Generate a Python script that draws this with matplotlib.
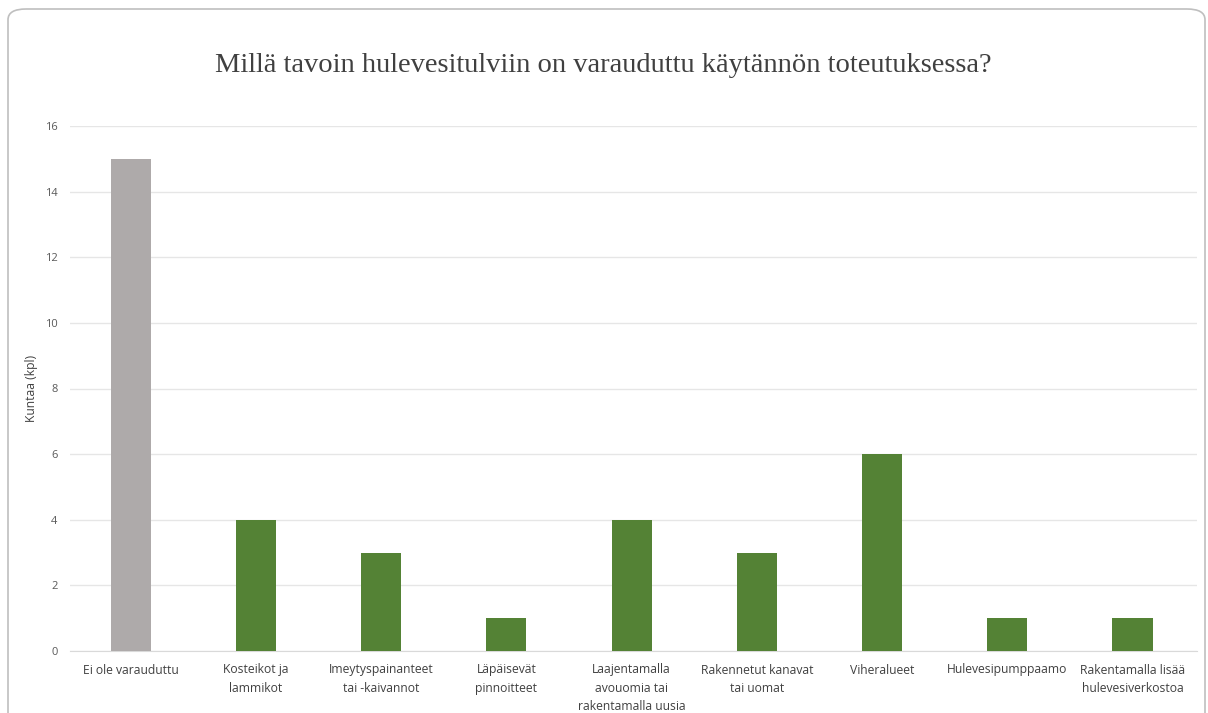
import matplotlib.pyplot as plt
from matplotlib.patches import FancyBboxPatch

categories = ['Ei ole varauduttu', 'Kosteikot ja\nlammikot', 'Imeytyspainanteet\ntai -kaivannot',
              'Läpäisevät\npinnoitteet', 'Laajentamalla\navouomia tai\nrakentamalla uusia',
              'Rakennetut kanavat\ntai uomat', 'Viheralueet', 'Hulevesipumppaamo',
              'Rakentamalla lisää\nhulevesiverkostoa']
values = [15, 4, 3, 1, 4, 3, 6, 1, 1]
colors = ['#aeaaaa'] + ['#548235'] * 8

fig = plt.figure(figsize=(12.08, 7.13), dpi=100)

# rounded chart border (runs off the bottom edge)
W, H = 1208, 713
border = FancyBboxPatch((8 / W, -20 / H), 1197 / W, (713 - 9 + 20) / H,
                        boxstyle='round,pad=0,rounding_size=0.015',
                        transform=fig.transFigure, facecolor='none',
                        edgecolor='#bfbfbf', linewidth=1.2, clip_on=False, zorder=5)
fig.patches.append(border)

ax = fig.add_axes([70 / W, 1 - 651 / H, 1127 / W, (651 - 126) / H])
ax.set_facecolor('none')
x = range(len(categories))
ax.bar([i - 0.015 for i in x], values, width=0.32, color=colors, zorder=3)

ax.set_ylim(0, 16)
ax.set_xlim(-0.5, len(categories) - 0.5)
ax.set_yticks(range(0, 17, 2))
ax.set_xticks([i - 0.015 for i in x])
ax.set_xticklabels(categories, fontsize=8.7, color='#404040', linespacing=1.55,
                   family='Open Sans', va='top')
for lbl in ax.get_yticklabels():
    lbl.set_fontsize(8)
    lbl.set_color('#595959')
    lbl.set_family('Open Sans')
ax.tick_params(axis='both', length=0)
ax.tick_params(axis='y', pad=9)
ax.tick_params(axis='x', pad=9)
ax.grid(axis='y', color='#e6e6e6', linewidth=1, zorder=0)
for s in ['top', 'right', 'left']:
    ax.spines[s].set_visible(False)
ax.spines['bottom'].set_color('#d9d9d9')
ax.set_ylabel('Kuntaa (kpl)', fontsize=8.7, color='#404040', family='Open Sans', labelpad=5)

fig.text(0.499, 1 - 66 / H, 'Millä tavoin hulevesitulviin on varauduttu käytännön toteutuksessa?',
         ha='center', va='center', fontsize=20.5, color='#404040', family='Liberation Serif')

fig.savefig('out.png', dpi=100)
